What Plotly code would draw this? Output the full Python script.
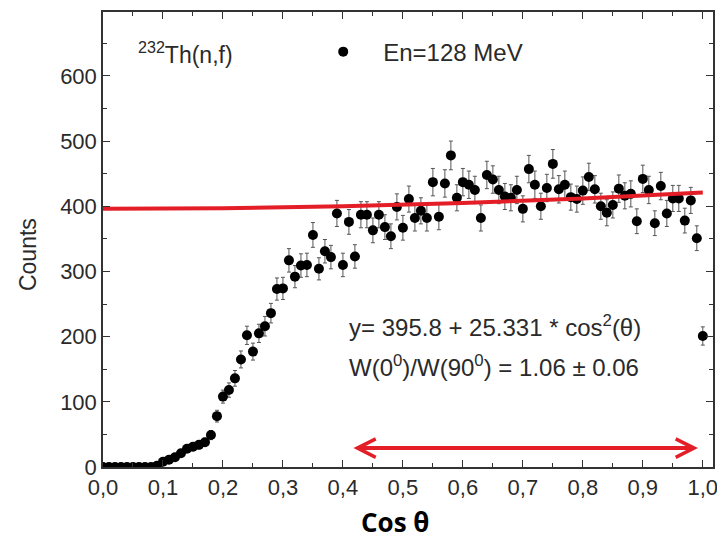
import plotly.graph_objects as go

# ---- data ----
cos_theta = [round(i * 0.01, 2) for i in range(101)]
counts = [0, 0, 0, 0, 0, 0, 0, 0, 0, 2,
          8, 11, 15, 21, 28, 31, 34, 38, 49, 78,
          108, 118, 136, 165, 202, 177, 205, 216, 236, 273,
          274, 317, 292, 309, 310, 356, 304, 331, 322, 389,
          310, 376, 323, 387, 387, 363, 387, 368, 354, 399,
          367, 411, 382, 393, 382, 437, 384, 435, 478, 413,
          437, 433, 425, 382, 448, 441, 425, 415, 413, 425,
          396, 457, 433, 400, 428, 465, 426, 433, 414, 411,
          424, 445, 426, 400, 390, 402, 427, 416, 419, 377,
          442, 425, 374, 431, 389, 412, 412, 378, 409, 351,
          201]
errors = [0, 0, 0, 0, 0, 0, 0, 0, 0, 1,
          3, 3, 4, 5, 5, 6, 6, 6, 7, 9,
          10, 11, 12, 13, 14, 13, 14, 15, 15, 17,
          17, 18, 17, 18, 18, 19, 17, 18, 18, 20,
          18, 19, 18, 20, 20, 19, 20, 19, 19, 20,
          19, 20, 20, 20, 20, 21, 20, 21, 22, 20,
          21, 21, 21, 20, 21, 21, 21, 20, 20, 21,
          20, 21, 21, 20, 21, 22, 21, 21, 20, 20,
          21, 21, 21, 20, 20, 20, 21, 20, 20, 19,
          21, 21, 19, 21, 20, 20, 20, 19, 20, 19,
          14]

fit_x = [0.0, 0.2, 0.4, 0.6, 0.8, 1.0]
fit_y = [396, 397, 400, 405, 412, 421]

x_tick_vals = [0.0, 0.1, 0.2, 0.3, 0.4, 0.5, 0.6, 0.7, 0.8, 0.9, 1.0]
x_tick_labels = ["0,0", "0,1", "0,2", "0,3", "0,4", "0,5", "0,6", "0,7", "0,8", "0,9", "1,0"]
y_tick_vals = [0, 100, 200, 300, 400, 500, 600]
y_tick_labels = ["0", "100", "200", "300", "400", "500", "600"]

series_name = "\u00a0\u00a0\u00a0En=128 MeV"
reaction_label = "<sup>232</sup>Th(n,f)"
fit_label = "y= 395.8 + 25.331 * cos<sup>2</sup>(θ)"
ratio_label = "W(0<sup>0</sup>)/W(90<sup>0</sup>) = 1.06 ± 0.06"
arrow_from, arrow_to, arrow_level = 0.415, 0.992, 29

FONT = "Arial, Liberation Sans, sans-serif"
TXT = "#2a2a2a"
AX = "#333333"

fig = go.Figure()
fig.add_trace(go.Scatter(
    x=cos_theta, y=counts, mode="markers", name=series_name,
    marker=dict(color="black", size=10, line=dict(width=0)),
    error_y=dict(type="data", array=errors, visible=True,
                 color="#555555", thickness=1, width=2),
))
fig.add_trace(go.Scatter(
    x=fit_x, y=fit_y, mode="lines", showlegend=False,
    line=dict(color="#e41e26", width=4),
))

axis_common = dict(
    showline=True, linecolor=AX, linewidth=1.5, mirror="allticks",
    ticks="inside", ticklen=7, tickwidth=1.2, tickcolor=AX,
    showgrid=False, zeroline=False, automargin=False,
    ticklabeloverflow="allow",
    tickfont=dict(family=FONT, size=22, color=TXT),
)

fig.update_layout(
    width=717, height=540,
    margin=dict(l=103, r=4, t=12, b=73),
    paper_bgcolor="white", plot_bgcolor="white",
    showlegend=True,
    legend=dict(x=0.361, y=0.912, xanchor="left", yanchor="middle",
                bgcolor="rgba(0,0,0,0)", borderwidth=0,
                font=dict(family=FONT, size=24, color=TXT)),
    xaxis=dict(range=[0, 1.017], tickvals=x_tick_vals, ticktext=x_tick_labels,
               minor=dict(ticks="inside", ticklen=4, tickcolor=AX, dtick=0.05, tick0=0),
               **axis_common),
    yaxis=dict(range=[0, 698], tickvals=y_tick_vals, ticktext=y_tick_labels,
               minor=dict(ticks="inside", ticklen=4, tickcolor=AX, dtick=50, tick0=0),
               **axis_common),
)

fig.add_annotation(text=reaction_label, xref="paper", yref="paper",
                   x=0.054, y=0.91, xanchor="left", yanchor="middle", showarrow=False,
                   font=dict(family=FONT, size=23, color=TXT))
fig.add_annotation(text=fit_label, xref="paper", yref="paper",
                   x=0.400, y=0.309, xanchor="left", yanchor="middle", showarrow=False,
                   font=dict(family=FONT, size=24, color=TXT))
fig.add_annotation(text=ratio_label, xref="paper", yref="paper",
                   x=0.400, y=0.223, xanchor="left", yanchor="middle", showarrow=False,
                   font=dict(family=FONT, size=24, color=TXT))
fig.add_annotation(text="Counts", xref="paper", yref="paper",
                   x=-0.123, y=0.468, textangle=-90, showarrow=False,
                   xanchor="center", yanchor="middle",
                   font=dict(family=FONT, size=23, color=TXT))
fig.add_annotation(text="<b>Cos θ</b>", xref="paper", yref="paper",
                   x=0.479, y=-0.12, showarrow=False,
                   xanchor="center", yanchor="middle",
                   font=dict(family="Open Sans, sans-serif", size=26, color="black"))
# double-headed red arrow
fig.add_annotation(x=arrow_to, y=arrow_level, ax=arrow_from, ay=arrow_level,
                   xref="x", yref="y", axref="x", ayref="y", text="",
                   showarrow=True, arrowside="end+start",
                   arrowhead=5, startarrowhead=5,
                   arrowsize=0.9, startarrowsize=0.9,
                   arrowwidth=4, arrowcolor="#e41e26",
                   standoff=0, startstandoff=0)

fig.write_html("out.html")
